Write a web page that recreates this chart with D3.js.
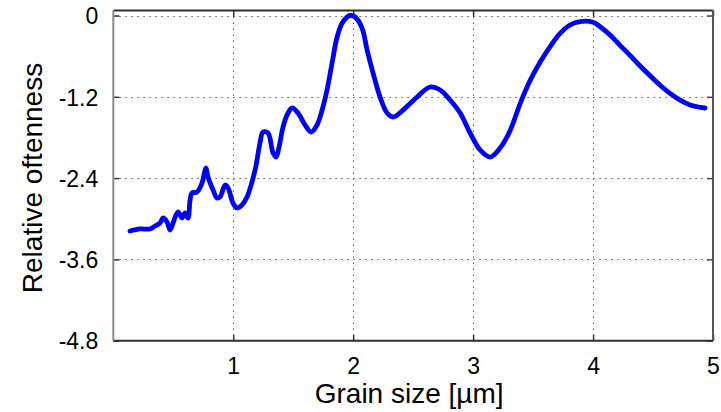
<!DOCTYPE html>
<html>
<head>
<meta charset="utf-8">
<script src="https://cdn.jsdelivr.net/npm/d3@7"></script>
<style>
  html, body { margin: 0; padding: 0; background: #fff; }
  svg { display: block; }
  text { font-family: "Liberation Sans", Arial, sans-serif; fill: #000; }
</style>
</head>
<body>
<svg id="chart" width="721" height="412"></svg>
<script>
// Grain size [µm]
const grainSize = [
  0.139, 0.223, 0.306, 0.348, 0.389, 0.415, 0.448, 0.473, 0.498, 0.540,
  0.573, 0.598, 0.623, 0.640, 0.656, 0.698, 0.740, 0.765, 0.773, 0.790,
  0.832, 0.865, 0.890, 0.932, 0.957, 0.998, 1.032, 1.073, 1.115, 1.182,
  1.223, 1.248, 1.290, 1.332, 1.357, 1.382, 1.415, 1.457, 1.490, 1.540,
  1.599, 1.649, 1.699, 1.741, 1.782, 1.824, 1.866, 1.908, 1.949, 1.974,
  2.016, 2.074, 2.116, 2.166, 2.224, 2.283, 2.333, 2.416, 2.533, 2.641,
  2.725, 2.808, 2.892, 2.975, 3.058, 3.142, 3.225, 3.308, 3.392, 3.475,
  3.558, 3.642, 3.725, 3.808, 3.892, 4.000, 4.059, 4.142, 4.225, 4.309,
  4.393, 4.476, 4.559, 4.642, 4.726, 4.809, 4.892, 4.934
];
// Relative oftenness (log scale, maximum = 0)
const oftenness = [
  -3.181, -3.151, -3.151, -3.107, -3.063, -2.989, -3.048, -3.166, -3.063, -2.900,
  -2.989, -2.915, -2.989, -2.723, -2.620, -2.605, -2.472, -2.280, -2.251, -2.384,
  -2.576, -2.694, -2.679, -2.502, -2.546, -2.768, -2.841, -2.797, -2.679, -2.280,
  -1.882, -1.720, -1.734, -2.030, -2.089, -1.941, -1.646, -1.439, -1.365, -1.439,
  -1.616, -1.720, -1.616, -1.395, -1.100, -0.701, -0.317, -0.111, -0.022, 0.000,
  -0.022, -0.185, -0.509, -0.849, -1.203, -1.439, -1.498, -1.395, -1.203, -1.055,
  -1.100, -1.247, -1.439, -1.734, -1.985, -2.089, -1.956, -1.700, -1.300, -0.960,
  -0.690, -0.460, -0.265, -0.140, -0.090, -0.100, -0.165, -0.288, -0.440, -0.590,
  -0.745, -0.890, -1.030, -1.150, -1.250, -1.320, -1.355, -1.365
];
const xTicks = [1, 2, 3, 4, 5];
const yTicks = [0, -1.2, -2.4, -3.6, -4.8];
const yTickLabels = ["0", "-1.2", "-2.4", "-3.6", "-4.8"];

const svg = d3.select("#chart");
const plotLeft = 113.3, plotRight = 713, plotTop = 10.5, plotBottom = 340.7;

const x = d3.scaleLinear().domain([0, 5]).range([plotLeft, plotRight]);
const y = d3.scaleLinear().domain([-4.8, 0.074]).range([plotBottom, plotTop]);

// dotted grid
const grid = svg.append("g")
  .attr("stroke", "#5a5a5a")
  .attr("stroke-width", 1)
  .attr("stroke-dasharray", "1.5,4.5");
grid.selectAll("line.gx").data(xTicks.filter(d => d < 5)).join("line")
  .attr("class", "gx")
  .attr("x1", d => Math.round(x(d)) + 0.5).attr("x2", d => Math.round(x(d)) + 0.5)
  .attr("y1", plotTop).attr("y2", plotBottom);
grid.selectAll("line.gy").data(yTicks.filter(d => d > -4.8)).join("line")
  .attr("class", "gy")
  .attr("y1", d => Math.round(y(d)) + 0.5).attr("y2", d => Math.round(y(d)) + 0.5)
  .attr("x1", plotLeft).attr("x2", plotRight);

// axes with inward ticks (box style)
const axB = d3.axisBottom(x).tickValues(xTicks).tickSize(-6).tickFormat(d3.format("d")).tickPadding(17);
const axT = d3.axisTop(x).tickValues(xTicks).tickSize(-6).tickFormat("");
const axL = d3.axisLeft(y).tickValues(yTicks).tickSize(-6).tickPadding(15)
  .tickFormat((d, i) => yTickLabels[i]);
const axR = d3.axisRight(y).tickValues(yTicks).tickSize(-6).tickFormat("");

function style(g, col) {
  g.select(".domain").remove();
  g.selectAll(".tick line").attr("stroke", col).attr("stroke-width", 1.5);
  g.selectAll(".tick text").style("font-size", "23px").attr("fill", "#000");
}
svg.append("g").attr("transform", `translate(0,${plotBottom})`).call(axB).call(g => style(g, "#333"))
  .selectAll(".tick text").attr("dy", "0.71em");
svg.append("g").attr("transform", `translate(0,${plotTop})`).call(axT).call(g => style(g, "#333"));
svg.append("g").attr("transform", `translate(${plotLeft},0)`).call(axL).call(g => style(g, "#333"))
  .selectAll(".tick text").attr("dy", "0.36em");
svg.append("g").attr("transform", `translate(${plotRight},0)`).call(axR).call(g => style(g, "#444"));

// box frame
svg.append("line").attr("x1", plotLeft).attr("x2", plotRight).attr("y1", plotBottom).attr("y2", plotBottom)
  .attr("stroke", "#2e2e2e").attr("stroke-width", 2);
svg.append("line").attr("x1", plotLeft).attr("x2", plotRight).attr("y1", plotTop).attr("y2", plotTop)
  .attr("stroke", "#2e2e2e").attr("stroke-width", 2);
svg.append("line").attr("x1", plotLeft).attr("x2", plotLeft).attr("y1", plotTop).attr("y2", plotBottom)
  .attr("stroke", "#8c8c8c").attr("stroke-width", 2);
svg.append("line").attr("x1", plotRight).attr("x2", plotRight).attr("y1", plotTop).attr("y2", plotBottom)
  .attr("stroke", "#555").attr("stroke-width", 2);

// curve
const pts = grainSize.map((g, i) => [g, oftenness[i]]);
svg.append("path")
  .datum(pts)
  .attr("fill", "none")
  .attr("stroke", "#0000ff")
  .attr("stroke-width", 4.8)
  .attr("stroke-linejoin", "round")
  .attr("stroke-linecap", "round")
  .attr("d", d3.line().x(d => x(d[0])).y(d => y(d[1])).curve(d3.curveCatmullRom.alpha(0.5)));

// axis titles
svg.append("text")
  .attr("x", (plotLeft + plotRight) / 2 - 4).attr("y", 403)
  .attr("text-anchor", "middle")
  .style("font-size", "28px")
  .text("Grain size [µm]");
svg.append("text")
  .attr("transform", "translate(42,178) rotate(-90)")
  .attr("text-anchor", "middle")
  .style("font-size", "28px")
  .text("Relative oftenness");
</script>
</body>
</html>
